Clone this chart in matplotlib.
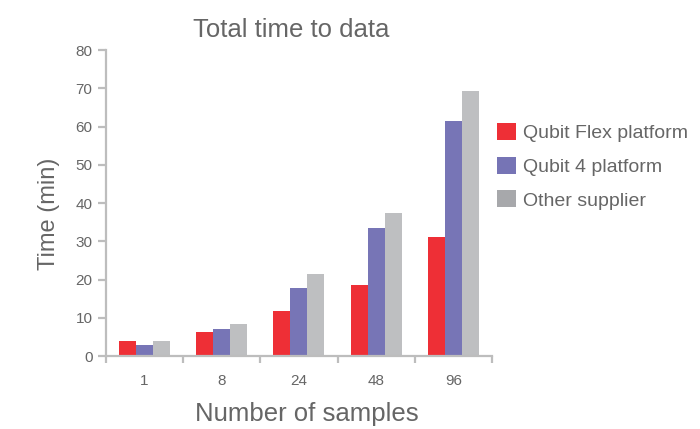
import numpy as np
import matplotlib
matplotlib.use('Agg')
import matplotlib.pyplot as plt
from matplotlib.patches import Patch

plt.rcParams['font.family'] = ['Liberation Sans', 'DejaVu Sans']

# data
samples = ['1', '8', '24', '48', '96']
flex = [4.0, 6.4, 11.8, 18.5, 31.2]
qubit4 = [2.9, 7.0, 17.9, 33.6, 61.5]
other = [4.0, 8.3, 21.5, 37.3, 69.2]
series_names = ['Qubit Flex platform', 'Qubit 4 platform', 'Other supplier']

bar_colors = ['#EE2F36', '#7775B6', '#BEBFC1']
legend_colors = ['#EE2F36', '#7674B5', '#A7A8AB']
axis_col = '#BDBDBD'
text_col = '#666666'

fig = plt.figure(figsize=(7.0, 4.29), dpi=100)
fig.patch.set_facecolor('white')
ax = fig.add_axes([0.151, 0.170, 0.552, 0.713])

x = np.arange(len(samples))
w = 0.22
for i, vals in enumerate([flex, qubit4, other]):
    ax.bar(x + (i - 1) * w, vals, width=w, color=bar_colors[i],
           edgecolor='none', label=series_names[i])

ax.set_xlim(-0.5, len(samples) - 0.5)
ax.set_ylim(0, 80)

for s in ['top', 'right']:
    ax.spines[s].set_visible(False)
for s in ['left', 'bottom']:
    ax.spines[s].set_color(axis_col)
    ax.spines[s].set_linewidth(1.6)

# y axis
ax.set_yticks(np.arange(0, 81, 10))
ax.tick_params(axis='y', direction='out', length=6, width=1.6, color=axis_col,
               labelcolor=text_col, labelsize=11, pad=3.5)

# x axis: tick marks at group boundaries, labels in the middle
ax.set_xticks(np.arange(-0.5, len(samples), 1.0))
ax.set_xticklabels([])
ax.set_xticks(x, minor=True)
ax.set_xticklabels(samples, minor=True)
ax.tick_params(axis='x', which='major', direction='out', length=5, width=1.6,
               color=axis_col)
ax.tick_params(axis='x', which='minor', length=0, labelcolor=text_col,
               labelsize=11, pad=13)

ax.set_title('Total time to data', fontsize=18.5, color=text_col,
             x=0.48, y=1.0425, pad=0)
ax.set_xlabel('Number of samples', fontsize=18.5, color=text_col, va='top')
ax.xaxis.set_label_coords(0.52, -0.150)
ax.set_ylabel('Time (min)', fontsize=17, color=text_col, va='center')
ax.yaxis.set_label_coords(-0.147, 0.466)

handles = [Patch(facecolor=c, edgecolor='none') for c in legend_colors]
fig.legend(handles, series_names, loc='upper left',
           bbox_to_anchor=(0.699, 0.731), frameon=False, fontsize=14,
           labelcolor=text_col, handlelength=0.95, handleheight=0.95,
           handletextpad=0.4, labelspacing=0.75, borderaxespad=0)

fig.savefig('out.png', dpi=100, facecolor='white')
